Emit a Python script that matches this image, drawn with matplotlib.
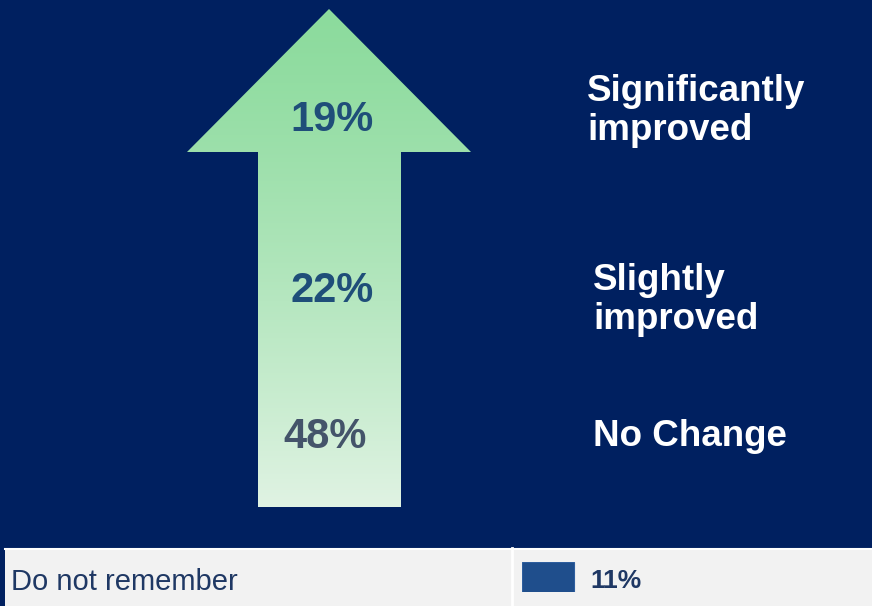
import matplotlib
matplotlib.use("Agg")
import matplotlib.pyplot as plt
from matplotlib.patches import Polygon, Rectangle
from matplotlib.colors import to_rgb
import numpy as np

plt.rcParams["font.family"] = ["Liberation Sans", "DejaVu Sans"]

# Survey results
categories = ["Significantly\nimproved", "Slightly\nimproved", "No Change"]
shares = [19, 22, 48]
other_label = "Do not remember"
other_share = 11

# Layout (pixel coordinates on an 872x606 canvas)
W, H = 872, 606
share_xy = [(332, 120), (332, 291), (325, 437)]
share_colors = ["#1F4E79", "#1F4E79", "#44546A"]
label_xy = [(587, 111), (593, 300), (593, 437)]
bg = "#002060"

fig = plt.figure(figsize=(W / 100, H / 100), dpi=100)
fig.patch.set_facecolor(bg)
ax = fig.add_axes([0, 0, 1, 1])
ax.set_facecolor(bg)

# Up arrow filled with a vertical green gradient
arrow = Polygon([(329, 9), (471, 152), (401, 152), (401, 507),
                 (258, 507), (258, 152), (187, 152)],
                closed=True, facecolor="none", edgecolor="none")
ax.add_patch(arrow)
top, bottom = np.array(to_rgb("#8CDB9D")), np.array(to_rgb("#E0F3E3"))
t = np.linspace(0, 1, 400)[:, None, None] ** 1.3
grad = top * (1 - t) + bottom * t
grad = np.repeat(grad, 2, axis=1)
im = ax.imshow(grad, extent=(187, 471, 507, 9), aspect="auto",
               origin="upper", interpolation="bilinear")
im.set_clip_path(arrow)

for (x, y), v, c in zip(share_xy, shares, share_colors):
    ax.text(x, y, f"{v}%", ha="center", va="center", fontsize=30,
            fontweight="bold", color=c)

for (x, y), lab in zip(label_xy, categories):
    ax.text(x, y, lab, ha="left", va="center", fontsize=26.5,
            fontweight="bold", color="white", linespacing=1.18)

# Bottom table row
ax.add_patch(Rectangle((5, 548), W - 5, H - 548, facecolor="#F2F2F2",
                       edgecolor="none"))
ax.plot([5, W], [548.5, 548.5], color="white", lw=1.5)
ax.plot([511.5, 511.5], [548, H], color="white", lw=2)
ax.text(11, 582, other_label, ha="left", va="center", fontsize=21,
        color="#1F3864")

ax.set_xlim(0, W)
ax.set_ylim(H, 0)
ax.axis("off")

bar_ax = fig.add_axes([522 / W, 1 - 592 / H, 350 / W, 30 / H])
bar_ax.barh([0], [other_share], height=1, color="#1F4E8C",
            edgecolor="#2E5E9E", linewidth=0.8)
bar_ax.annotate(f"{other_share}%", xy=(other_share, 0), xytext=(16, -4),
                textcoords="offset pixels", ha="left", va="center",
                fontsize=19, fontweight="bold", color="#1F3864")
bar_ax.set_xlim(0, 350 / 52 * 11)
bar_ax.set_ylim(-0.5, 0.5)
bar_ax.axis("off")

fig.savefig("out.png", dpi=100, facecolor=bg)
